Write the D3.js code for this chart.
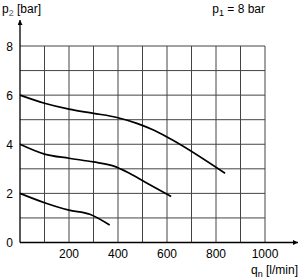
<!DOCTYPE html>
<html>
<head>
<meta charset="utf-8">
<script src="https://cdn.jsdelivr.net/npm/d3@7"></script>
<style>
  body { margin: 0; background: #fff; }
  text { font-family: "Liberation Sans", Arial, sans-serif; font-size: 12px; fill: #000; }
</style>
</head>
<body>
<div id="graphArea"></div>
<script>
// readings from the chart, flow in l/min, pressure in bar
var xTicks = [200, 400, 600, 800, 1000]
var yTicks = [0, 2, 4, 6, 8]
var curveHigh = [[0, 6], [100, 5.67], [200, 5.43], [300, 5.26], [400, 5.08], [480, 4.84], [540, 4.6], [600, 4.3], [837, 2.82]]
var curveMid = [[0, 4], [100, 3.6], [200, 3.43], [300, 3.28], [380, 3.12], [450, 2.8], [530, 2.35], [617, 1.87]]
var curveLow = [[0, 2], [100, 1.62], [200, 1.32], [285, 1.15], [366, 0.71]]

// note: "top" is taken by window.top, so the margins get other names
var width = 300, height = 279
var plotLeft = 20, plotRight = 265, plotTop = 46, plotBottom = 242.5

var svg = d3.select("#graphArea").append("svg")
  .attr("width", width)
  .attr("height", height)

var x = d3.scaleLinear().domain([0, 1000]).range([plotLeft, plotRight])
var y = d3.scaleLinear().domain([0, 8]).range([plotBottom, plotTop])

// grid every 100 l/min and 1 bar
var grid = svg.append("g").attr("stroke", "#444").attr("stroke-width", 1)
grid.selectAll(".vline")
  .data(d3.range(100, 1001, 100))
  .enter().append("line")
  .attr("x1", d => x(d)).attr("x2", d => x(d))
  .attr("y1", y(0)).attr("y2", y(8))
grid.selectAll(".hline")
  .data(d3.range(1, 9, 1))
  .enter().append("line")
  .attr("x1", x(0)).attr("x2", x(1000))
  .attr("y1", d => y(d)).attr("y2", d => y(d))

// axes with arrows
svg.append("defs").append("marker")
  .attr("id", "arrow")
  .attr("viewBox", "0 0 10 10")
  .attr("refX", 10).attr("refY", 5)
  .attr("markerWidth", 14).attr("markerHeight", 5)
  .attr("markerUnits", "userSpaceOnUse")
  .attr("orient", "auto")
  .append("path").attr("d", "M0,0 L10,5 L0,10 Z").attr("fill", "#000")

svg.append("line")
  .attr("x1", x(0)).attr("x2", x(0))
  .attr("y1", y(0)).attr("y2", 20)
  .attr("stroke", "#000").attr("stroke-width", 1.3)
  .attr("marker-end", "url(#arrow)")
svg.append("line")
  .attr("x1", x(0)).attr("x2", 298)
  .attr("y1", y(0)).attr("y2", y(0))
  .attr("stroke", "#000").attr("stroke-width", 1.3)
  .attr("marker-end", "url(#arrow)")

// tick labels
svg.selectAll(".ylab")
  .data(yTicks)
  .enter().append("text")
  .attr("x", 13).attr("y", d => y(d) + 4.5)
  .attr("text-anchor", "end")
  .text(d => d)
svg.selectAll(".xlab")
  .data(xTicks)
  .enter().append("text")
  .attr("x", d => x(d)).attr("y", 258)
  .attr("text-anchor", "middle")
  .text(d => d)

// titles
var t1 = svg.append("text").attr("x", 2).attr("y", 13)
t1.append("tspan").text("p")
t1.append("tspan").attr("dy", 3).style("font-size", "9px").attr("fill", "#666").text("2")
t1.append("tspan").attr("dy", -3).text(" [bar]")

var t2 = svg.append("text").attr("x", 265).attr("y", 13).attr("text-anchor", "end")
t2.append("tspan").text("p")
t2.append("tspan").attr("dy", 3).style("font-size", "9px").text("1")
t2.append("tspan").attr("dy", -3).text(" = 8 bar")

var t3 = svg.append("text").attr("x", 298).attr("y", 274).attr("text-anchor", "end")
t3.append("tspan").text("q")
t3.append("tspan").attr("dy", 3).style("font-size", "9px").text("n")
t3.append("tspan").attr("dy", -3).text(" [l/min]")

// curves
var line = d3.line()
  .x(d => x(d[0]))
  .y(d => y(d[1]))
  .curve(d3.curveMonotoneX)

svg.selectAll(".curve")
  .data([curveHigh, curveMid, curveLow])
  .enter().append("path")
  .attr("class", "curve")
  .attr("d", line)
  .attr("fill", "none")
  .attr("stroke", "#000")
  .attr("stroke-width", 1.7)
</script>
</body>
</html>
